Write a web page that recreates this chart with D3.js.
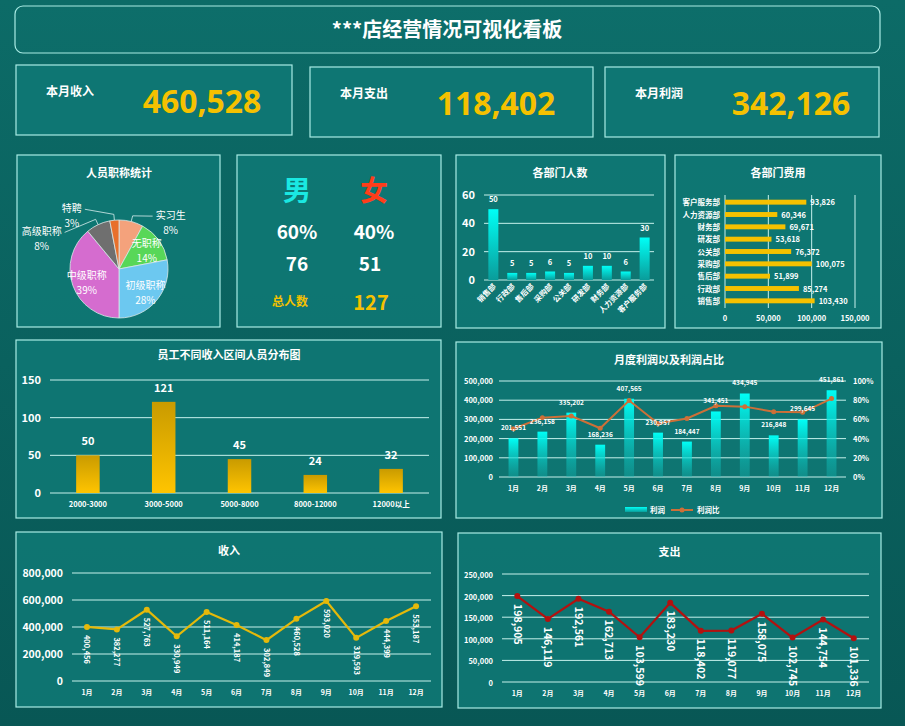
<!DOCTYPE html>
<html>
<head>
<meta charset="utf-8">
<script src="https://d3js.org/d3.v7.min.js"></script>
<style>
  body { margin: 0; background: #0b6764; }
  svg { display: block; font-family: "Noto Sans CJK SC", "Noto Sans", sans-serif; }
</style>
</head>
<body>
<svg id="board" width="905" height="726"></svg>
<script>
// ---- data ----
var kpiLabels = ["本月收入", "本月支出", "本月利润"];
var kpiValues = [460528, 118402, 342126];

var titleNames = ["实习生", "无职称", "初级职称", "中级职称", "高级职称", "特聘"];
var titleShare = [8, 14, 28, 39, 8, 3];
var titleColors = ["#f4a27c", "#58d758", "#6cc8f0", "#d56ccf", "#6f6f6f", "#e8702c"];

var genderNames = ["男", "女"];
var genderShare = ["60%", "40%"];
var genderCount = [76, 51];
var totalCount = 127;

var deptNames = ["销售部", "行政部", "售后部", "采购部", "公关部", "研发部", "财务部", "人力资源部", "客户服务部"];
var deptHeads = [50, 5, 5, 6, 5, 10, 10, 6, 30];
var deptCost = [103430, 85274, 51899, 100075, 76372, 53618, 69671, 60346, 93826];

var payBands = ["2000-3000", "3000-5000", "5000-8000", "8000-12000", "12000以上"];
var payCounts = [50, 121, 45, 24, 32];

var months = ["1月", "2月", "3月", "4月", "5月", "6月", "7月", "8月", "9月", "10月", "11月", "12月"];
var profit = [201551, 236158, 335202, 168236, 407565, 230957, 184447, 341451, 434945, 216848, 299645, 451861];
var profitRatio = [0.503, 0.618, 0.635, 0.508, 0.797, 0.558, 0.609, 0.741, 0.733, 0.679, 0.674, 0.817];
var income = [400456, 382277, 527763, 330949, 511164, 414187, 302849, 460528, 593020, 319593, 444399, 553187];
var expense = [198905, 146119, 192561, 162713, 103599, 183230, 118402, 119077, 158075, 102745, 144754, 101336];

var fmt = d3.format(",");
var svg = d3.select("#board");
var defs = svg.append("defs");

function vgrad(id, c1, c2, o2) {
  var g = defs.append("linearGradient").attr("id", id)
    .attr("x1", 0).attr("y1", 0).attr("x2", 0).attr("y2", 1);
  g.append("stop").attr("offset", "0%").attr("stop-color", c1);
  g.append("stop").attr("offset", "100%").attr("stop-color", c2).attr("stop-opacity", o2 == null ? 1 : o2);
}
vgrad("bg", "#0c6b67", "#085755");
vgrad("cyanBar", "#00fff6", "#0a9c9a");
vgrad("cyanFade", "#00fff6", "#12b9b5", 0.35);
vgrad("goldBar", "#c99b00", "#ffc400");

svg.append("rect").attr("width", 905).attr("height", 726).attr("fill", "url(#bg)");

function panel(x, y, w, h, r) {
  svg.append("rect").attr("x", x).attr("y", y).attr("width", w).attr("height", h)
    .attr("rx", r || 0)
    .attr("fill", "#0f7975").attr("fill-opacity", r ? 0.25 : 0.85)
    .attr("stroke", "#a9ebe4").attr("stroke-width", 1.2);
}
function txt(x, y, s, size, color, weight, anchor) {
  return svg.append("text").attr("x", x).attr("y", y).text(s)
    .attr("font-size", size).attr("fill", color || "#fff")
    .attr("font-weight", weight || "bold")
    .attr("text-anchor", anchor || "middle");
}
function hgrid(y, ticks, x0, x1) {
  svg.append("g").selectAll("line").data(ticks).join("line")
    .attr("x1", x0).attr("x2", x1)
    .attr("y1", function(d) { return y(d); }).attr("y2", function(d) { return y(d); })
    .attr("stroke", "#c6f1ec").attr("stroke-width", 1);
}

// ---- title + KPIs ----
panel(15, 6, 865, 47, 8);
txt(447, 37, "***店经营情况可视化看板", 20);

var kpiBox = [[16, 65, 276, 70], [310, 67, 283, 70], [605, 67, 274, 70]];
kpiBox.forEach(function(b, i) {
  panel(b[0], b[1], b[2], b[3]);
  txt(b[0] + 30, b[1] + 31, kpiLabels[i], 12, "#fff", "bold", "start");
  txt(b[0] + 186, b[1] + 48, fmt(kpiValues[i]), 31, "#f5c100", "bold", "middle")
    .attr("font-family", "'Liberation Sans Narrow', 'Noto Sans', sans-serif")
    .attr("transform", "translate(" + (b[0] + 186) + "," + (b[1] + 48) + ") scale(1.03,1.05) translate(" + (-(b[0] + 186)) + "," + (-(b[1] + 48)) + ")");
});

// ---- pie of titles ----
panel(17, 155, 203, 172);
txt(119, 177, "人员职称统计", 11);
var pieData = d3.pie().sort(null).startAngle(0).endAngle(2 * Math.PI)(titleShare);
var cx = 119, cy = 269, R = 49;
var arc = d3.arc().innerRadius(0).outerRadius(R);
var pg = svg.append("g").attr("transform", "translate(" + cx + "," + cy + ")");
pg.selectAll("path").data(pieData).join("path")
  .attr("d", arc).attr("fill", function(d, i) { return titleColors[i]; })
  .attr("stroke", "#d9e8e8").attr("stroke-width", 0.8);
pieData.forEach(function(d, i) {
  var mid = (d.startAngle + d.endAngle) / 2;
  var lines = [titleNames[i], titleShare[i] + "%"];
  var t = pg.append("text").attr("font-size", 10).attr("fill", "#fff").attr("text-anchor", "middle");
  var lx, ly;
  if (titleShare[i] >= 10) {
    var c = d3.arc().innerRadius(R * 0.6).outerRadius(R * 0.8).centroid(d);
    lx = c[0]; ly = c[1] + 1;
  } else {
    var side = Math.sin(mid) >= 0 ? 1 : -1;
    var p0 = [Math.sin(mid) * R, -Math.cos(mid) * R];
    var p1 = [Math.sin(mid) * R * 1.12, -Math.cos(mid) * R * 1.12];
    var half = lines[0].length * 5;
    lx = p1[0] + side * (side > 0 ? 38 : 30 + lines[0].length * 6);
    ly = p1[1] + 200 * (1 - Math.cos(mid));
    var p2 = [lx - side * (half + 3), ly - 6];
    pg.append("polyline").attr("points", [p0, p1, p2].join(" "))
      .attr("fill", "none").attr("stroke", "#d8efef").attr("stroke-width", 0.8);
  }
  t.append("tspan").attr("x", lx).attr("y", ly - 3).text(lines[0]);
  t.append("tspan").attr("x", lx).attr("y", ly + 12).text(lines[1]);
});

// ---- gender ----
panel(237, 155, 204, 172);
var gx = d3.scalePoint().domain([0, 1]).range([297, 374]);
[0, 1].forEach(function(i) {
  txt(gx(i), 201, genderNames[i], 28, i ? "#ff3d1a" : "#1ae8e2");
  txt(gx(i), 239, genderShare[i], 19, "#fff");
  txt(gx(i) - (i ? 4 : 0), 271, genderCount[i], 19, "#fff");
});
txt(290, 306, "总人数", 12, "#f5c100");
txt(371, 310, totalCount, 20, "#f5c100");

// ---- dept heads ----
panel(456, 155, 209, 173);
txt(560, 177, "各部门人数", 11);
var dx = d3.scaleBand().domain(deptNames).range([484, 654]).paddingInner(0.47).paddingOuter(0.23);
var dy = d3.scaleLinear().domain([0, 60]).range([280, 195]);
hgrid(dy, dy.ticks(3), 484, 654);
svg.append("g").selectAll("text").data(dy.ticks(3)).join("text")
  .attr("x", 475).attr("y", function(d) { return dy(d) + 4; }).text(function(d) { return d; })
  .attr("font-size", 11).attr("font-weight", "bold").attr("fill", "#fff").attr("text-anchor", "end");
svg.append("g").selectAll("rect").data(deptHeads).join("rect")
  .attr("x", function(d, i) { return dx(deptNames[i]); })
  .attr("y", function(d) { return dy(d); })
  .attr("width", dx.bandwidth())
  .attr("height", function(d) { return dy(0) - dy(d); })
  .attr("fill", "url(#cyanBar)");
svg.append("g").selectAll("text").data(deptHeads).join("text")
  .attr("x", function(d, i) { return dx(deptNames[i]) + dx.bandwidth() / 2; })
  .attr("y", function(d) { return dy(d) - 7; })
  .text(function(d) { return d; })
  .attr("font-size", 7.5).attr("font-weight", "bold").attr("fill", "#fff").attr("text-anchor", "middle");
svg.append("g").selectAll("text").data(deptNames).join("text")
  .attr("transform", function(d) { return "translate(" + (dx(d) + dx.bandwidth() / 2 + 3) + ",287) rotate(-45)"; })
  .text(function(d) { return d; })
  .attr("font-size", 7.5).attr("font-weight", "bold").attr("fill", "#fff").attr("text-anchor", "end");

// ---- dept cost ----
panel(675, 155, 206, 173);
txt(778, 177, "各部门费用", 11);
var cxs = d3.scaleLinear().domain([0, 150000]).range([725, 855]);
var cys = d3.scaleBand().domain(deptNames).range([307, 196]).paddingInner(0.6).paddingOuter(0.3);
svg.append("g").selectAll("line").data(cxs.ticks(3)).join("line")
  .attr("x1", function(d) { return cxs(d); }).attr("x2", function(d) { return cxs(d); })
  .attr("y1", 195).attr("y2", 308).attr("stroke", "#c6f1ec").attr("stroke-width", 1);
svg.append("g").selectAll("text").data(cxs.ticks(3)).join("text")
  .attr("x", function(d) { return cxs(d); }).attr("y", 321).text(fmt)
  .attr("font-size", 7.5).attr("font-weight", "bold").attr("fill", "#fff").attr("text-anchor", "middle");
svg.append("g").selectAll("rect").data(deptCost).join("rect")
  .attr("x", cxs(0))
  .attr("y", function(d, i) { return cys(deptNames[i]); })
  .attr("width", function(d) { return cxs(d) - cxs(0); })
  .attr("height", cys.bandwidth())
  .attr("fill", "#f5c100");
svg.append("g").selectAll("text").data(deptCost).join("text")
  .attr("x", function(d) { return cxs(d) + 4; })
  .attr("y", function(d, i) { return cys(deptNames[i]) + cys.bandwidth() / 2 + 3; })
  .text(fmt).attr("font-size", 7.5).attr("font-weight", "bold").attr("fill", "#fff");
svg.append("g").selectAll("text").data(deptNames).join("text")
  .attr("x", 720).attr("y", function(d) { return cys(d) + cys.bandwidth() / 2 + 3; })
  .text(function(d) { return d; })
  .attr("font-size", 7.5).attr("font-weight", "bold").attr("fill", "#fff").attr("text-anchor", "end");

// ---- pay distribution ----
panel(16, 340, 425, 178);
txt(229, 359, "员工不同收入区间人员分布图", 11);
var px = d3.scaleBand().domain(payBands).range([50, 429]).paddingInner(0.69).paddingOuter(0.345);
var py = d3.scaleLinear().domain([0, 150]).range([493, 380]);
hgrid(py, py.ticks(3), 50, 429);
svg.append("g").selectAll("text").data(py.ticks(3)).join("text")
  .attr("x", 41).attr("y", function(d) { return py(d) + 4; }).text(function(d) { return d; })
  .attr("font-size", 11).attr("font-weight", "bold").attr("fill", "#fff").attr("text-anchor", "end");
svg.append("g").selectAll("rect").data(payCounts).join("rect")
  .attr("x", function(d, i) { return px(payBands[i]); })
  .attr("y", function(d) { return py(d); })
  .attr("width", px.bandwidth())
  .attr("height", function(d) { return py(0) - py(d); })
  .attr("fill", "url(#goldBar)");
svg.append("g").selectAll("text").data(payCounts).join("text")
  .attr("x", function(d, i) { return px(payBands[i]) + px.bandwidth() / 2; })
  .attr("y", function(d) { return py(d) - 10; })
  .text(function(d) { return d; })
  .attr("font-size", 11).attr("font-weight", "bold").attr("fill", "#fff").attr("text-anchor", "middle");
svg.append("g").selectAll("text").data(payBands).join("text")
  .attr("x", function(d) { return px(d) + px.bandwidth() / 2; }).attr("y", 507)
  .text(function(d) { return d; })
  .attr("font-size", 7.5).attr("font-weight", "bold").attr("fill", "#fff").attr("text-anchor", "middle");

// ---- monthly profit ----
panel(456, 342, 426, 176);
txt(669, 364, "月度利润以及利润占比", 11);
var mx = d3.scaleBand().domain(months).range([499, 846]).paddingInner(0.66).paddingOuter(0.33);
var my = d3.scaleLinear().domain([0, 500000]).range([477, 381]);
var my2 = d3.scaleLinear().domain([0, 1]).range([477, 381]);
hgrid(my, my.ticks(5), 499, 846);
svg.append("g").selectAll("text").data(my.ticks(5)).join("text")
  .attr("x", 493).attr("y", function(d) { return my(d) + 3; }).text(fmt)
  .attr("font-size", 7.5).attr("font-weight", "bold").attr("fill", "#fff").attr("text-anchor", "end");
svg.append("g").selectAll("text").data(my2.ticks(5)).join("text")
  .attr("x", 853).attr("y", function(d) { return my2(d) + 3; }).text(d3.format(".0%"))
  .attr("font-size", 7.5).attr("font-weight", "bold").attr("fill", "#fff");
svg.append("g").selectAll("rect").data(profit).join("rect")
  .attr("x", function(d, i) { return mx(months[i]); })
  .attr("y", function(d) { return my(d); })
  .attr("width", mx.bandwidth())
  .attr("height", function(d) { return my(0) - my(d); })
  .attr("fill", "url(#cyanFade)");
var mc = function(i) { return mx(months[i]) + mx.bandwidth() / 2; };
svg.append("path").datum(profitRatio)
  .attr("d", d3.line().x(function(d, i) { return mc(i); }).y(function(d) { return my2(d); }))
  .attr("fill", "none").attr("stroke", "#cd7038").attr("stroke-width", 2);
svg.append("g").selectAll("circle").data(profitRatio).join("circle")
  .attr("cx", function(d, i) { return mc(i); }).attr("cy", function(d) { return my2(d); })
  .attr("r", 2.5).attr("fill", "#cd7038");
svg.append("g").selectAll("text").data(profit).join("text")
  .attr("x", function(d, i) { return mc(i); })
  .attr("y", function(d) { return my(d) - 8; })
  .text(fmt).attr("font-size", 6.5).attr("font-weight", "bold").attr("fill", "#fff").attr("text-anchor", "middle");
svg.append("g").selectAll("text").data(months).join("text")
  .attr("x", function(d, i) { return mc(i); }).attr("y", 491)
  .text(function(d) { return d; })
  .attr("font-size", 7).attr("font-weight", "bold").attr("fill", "#fff").attr("text-anchor", "middle");
svg.append("rect").attr("x", 625).attr("y", 507).attr("width", 22).attr("height", 5).attr("fill", "url(#cyanBar)");
txt(650, 513, "利润", 7.5, "#fff", "bold", "start");
svg.append("line").attr("x1", 671).attr("x2", 693).attr("y1", 510).attr("y2", 510)
  .attr("stroke", "#cd7038").attr("stroke-width", 2);
svg.append("circle").attr("cx", 682).attr("cy", 510).attr("r", 2.5).attr("fill", "#cd7038");
txt(697, 513, "利润比", 7.5, "#fff", "bold", "start");

// ---- line charts ----
function lineChart(box, title, vals, domainMax, x0, x1, yTop, yBot, color, labelSize, tickSize) {
  panel(box[0], box[1], box[2], box[3]);
  txt(box[0] + box[2] / 2, box[1] + 23, title, 11);
  var x = d3.scaleBand().domain(months).range([x0, x1]);
  var y = d3.scaleLinear().domain([0, domainMax]).range([yBot, yTop]);
  var ticks = d3.range(0, domainMax + 1, domainMax / (domainMax > 500000 ? 4 : 5));
  hgrid(y, ticks, x0, x1);
  svg.append("g").selectAll("text").data(ticks).join("text")
    .attr("x", x0 - 9).attr("y", function(d) { return y(d) + 4; }).text(fmt)
    .attr("font-size", tickSize).attr("font-weight", "bold").attr("fill", "#fff").attr("text-anchor", "end");
  var xc = function(i) { return x(months[i]) + x.bandwidth() / 2; };
  svg.append("path").datum(vals)
    .attr("d", d3.line().x(function(d, i) { return xc(i); }).y(function(d) { return y(d); }))
    .attr("fill", "none").attr("stroke", color).attr("stroke-width", 2.2);
  svg.append("g").selectAll("circle").data(vals).join("circle")
    .attr("cx", function(d, i) { return xc(i); }).attr("cy", function(d) { return y(d); })
    .attr("r", 3).attr("fill", color);
  svg.append("g").selectAll("text").data(vals).join("text")
    .attr("transform", function(d, i) { return "translate(" + (xc(i) - labelSize * 0.35) + "," + (y(d) + 8) + ") rotate(90)"; })
    .text(fmt).attr("font-size", labelSize).attr("font-weight", "bold").attr("fill", "#fff");
  svg.append("g").selectAll("text").data(months).join("text")
    .attr("x", function(d, i) { return xc(i); }).attr("y", yBot + 14)
    .text(function(d) { return d; })
    .attr("font-size", 7).attr("font-weight", "bold").attr("fill", "#fff").attr("text-anchor", "middle");
}
lineChart([16, 532, 426, 175], "收入", income, 800000, 72, 431, 573, 681, "#e5b90a", 7.5, 10.5);
lineChart([458, 533, 423, 175], "支出", expense, 250000, 502, 869, 574, 682, "#b3110f", 10.5, 7.5);
</script>
</body>
</html>
